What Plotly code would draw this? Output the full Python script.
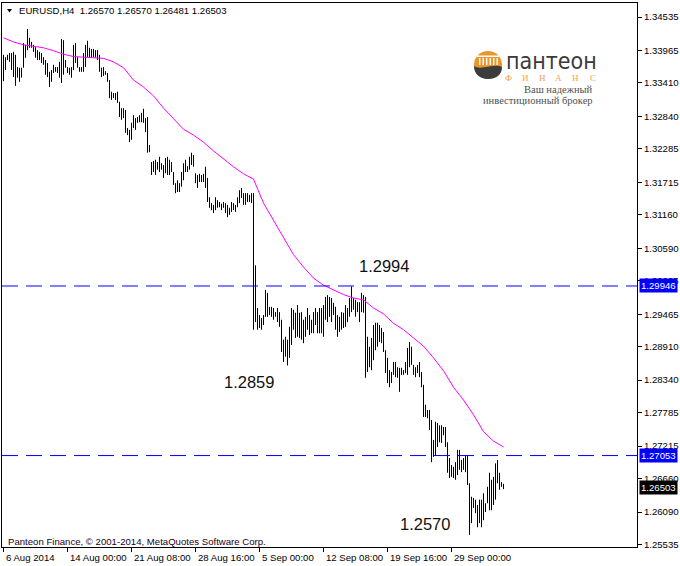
import plotly.graph_objects as go

# ---------------- data ----------------
symbol = "EURUSD,H4"
last_ohlc = ["1.26570", "1.26570", "1.26481", "1.26503"]

highs = [
    1.3389, 1.3385, 1.3389, 1.3392, 1.3392, 1.3394, 1.3389, 1.3368, 1.3367, 1.3367,
    1.3409, 1.3406, 1.3433, 1.3418, 1.3411, 1.3406, 1.3402, 1.3397, 1.3394, 1.3392,
    1.3385, 1.3380, 1.3375, 1.3360, 1.3363, 1.3372, 1.3368, 1.3368, 1.3377, 1.3416,
    1.3414, 1.3380, 1.3368, 1.3367, 1.3368, 1.3406, 1.3409, 1.3385, 1.3368, 1.3368,
    1.3392, 1.3406, 1.3413, 1.3401, 1.3399, 1.3399, 1.3397, 1.3397, 1.3389, 1.3367,
    1.3368, 1.3361, 1.3358, 1.3346, 1.3326, 1.3324, 1.3324, 1.3326, 1.3309, 1.3298,
    1.3298, 1.3295, 1.3264, 1.3261, 1.3273, 1.3286, 1.3281, 1.3283, 1.3286, 1.3290,
    1.3297, 1.3281, 1.3283, 1.3235, 1.3206, 1.3208, 1.3210, 1.3206, 1.3215, 1.3204,
    1.3201, 1.3213, 1.3215, 1.3210, 1.3206, 1.3189, 1.3170, 1.3175, 1.3170, 1.3189,
    1.3204, 1.3210, 1.3199, 1.3215, 1.3222, 1.3218, 1.3187, 1.3184, 1.3186, 1.3184,
    1.3186, 1.3198, 1.3179, 1.3146, 1.3136, 1.3133, 1.3146, 1.3141, 1.3138, 1.3135,
    1.3138, 1.3136, 1.3133, 1.3128, 1.3138, 1.3136, 1.3133, 1.3146, 1.3158, 1.3162,
    1.3153, 1.3153, 1.3153, 1.3150, 1.3153, 1.3153, 1.3030, 1.2957, 1.2945, 1.2940,
    1.2945, 1.2988, 1.2983, 1.2959, 1.2959, 1.2957, 1.2950, 1.2957, 1.2950, 1.2937,
    1.2903, 1.2908, 1.2903, 1.2925, 1.2957, 1.2954, 1.2949, 1.2962, 1.2949, 1.2950,
    1.2937, 1.2942, 1.2957, 1.2945, 1.2937, 1.2950, 1.2957, 1.2950, 1.2957, 1.2957,
    1.2962, 1.2976, 1.2979, 1.2976, 1.2974, 1.2966, 1.2959, 1.2945, 1.2942, 1.2950,
    1.2949, 1.2962, 1.2957, 1.2974, 1.2994, 1.2974, 1.2971, 1.2967, 1.2967, 1.2983,
    1.2979, 1.2976, 1.2908, 1.2891, 1.2906, 1.2928, 1.2932, 1.2932, 1.2928, 1.2923,
    1.2916, 1.2885, 1.2872, 1.2851, 1.2848, 1.2865, 1.2865, 1.2856, 1.2855, 1.2855,
    1.2851, 1.2865, 1.2889, 1.2899, 1.2891, 1.2860, 1.2856, 1.2860, 1.2865, 1.2848,
    1.2826, 1.2792, 1.2783, 1.2783, 1.2766, 1.2732, 1.2763, 1.2761, 1.2757, 1.2757,
    1.2754, 1.2754, 1.2728, 1.2701, 1.2689, 1.2686, 1.2694, 1.2715, 1.2715, 1.2698,
    1.2701, 1.2705, 1.2705, 1.2658, 1.2635, 1.2633, 1.2630, 1.2621, 1.2630, 1.2630,
    1.2641, 1.2624, 1.2652, 1.2676, 1.2664, 1.2669, 1.2692, 1.2698, 1.2676, 1.2660,
    1.2657,
]

lows = [
    1.3344, 1.3363, 1.3380, 1.3377, 1.3363, 1.3351, 1.3336, 1.3350, 1.3343, 1.3350,
    1.3367, 1.3384, 1.3397, 1.3401, 1.3401, 1.3394, 1.3384, 1.3380, 1.3380, 1.3375,
    1.3372, 1.3355, 1.3351, 1.3334, 1.3343, 1.3358, 1.3360, 1.3358, 1.3350, 1.3341,
    1.3355, 1.3367, 1.3358, 1.3355, 1.3350, 1.3363, 1.3375, 1.3367, 1.3360, 1.3360,
    1.3360, 1.3368, 1.3385, 1.3385, 1.3385, 1.3385, 1.3384, 1.3380, 1.3360, 1.3351,
    1.3353, 1.3355, 1.3343, 1.3315, 1.3312, 1.3315, 1.3312, 1.3307, 1.3283, 1.3278,
    1.3281, 1.3256, 1.3252, 1.3240, 1.3244, 1.3264, 1.3261, 1.3273, 1.3274, 1.3274,
    1.3273, 1.3257, 1.3222, 1.3223, 1.3184, 1.3189, 1.3184, 1.3193, 1.3189, 1.3193,
    1.3179, 1.3187, 1.3184, 1.3184, 1.3189, 1.3167, 1.3153, 1.3155, 1.3155, 1.3164,
    1.3175, 1.3189, 1.3189, 1.3193, 1.3201, 1.3198, 1.3170, 1.3162, 1.3172, 1.3172,
    1.3172, 1.3162, 1.3138, 1.3128, 1.3124, 1.3119, 1.3124, 1.3128, 1.3129, 1.3124,
    1.3128, 1.3119, 1.3112, 1.3116, 1.3121, 1.3124, 1.3121, 1.3129, 1.3136, 1.3145,
    1.3133, 1.3133, 1.3138, 1.3138, 1.3136, 1.2920, 1.2933, 1.2920, 1.2923, 1.2920,
    1.2928, 1.2942, 1.2942, 1.2945, 1.2942, 1.2937, 1.2942, 1.2933, 1.2925, 1.2882,
    1.2865, 1.2874, 1.2859, 1.2872, 1.2894, 1.2920, 1.2906, 1.2908, 1.2906, 1.2903,
    1.2897, 1.2908, 1.2920, 1.2911, 1.2914, 1.2914, 1.2928, 1.2914, 1.2914, 1.2914,
    1.2908, 1.2937, 1.2933, 1.2942, 1.2933, 1.2945, 1.2920, 1.2908, 1.2916, 1.2920,
    1.2923, 1.2925, 1.2933, 1.2942, 1.2950, 1.2954, 1.2942, 1.2950, 1.2933, 1.2950,
    1.2949, 1.2838, 1.2848, 1.2856, 1.2851, 1.2868, 1.2885, 1.2891, 1.2899, 1.2897,
    1.2882, 1.2846, 1.2829, 1.2822, 1.2829, 1.2843, 1.2839, 1.2838, 1.2814, 1.2843,
    1.2843, 1.2846, 1.2843, 1.2856, 1.2860, 1.2843, 1.2839, 1.2846, 1.2839, 1.2822,
    1.2771, 1.2771, 1.2769, 1.2749, 1.2694, 1.2703, 1.2706, 1.2720, 1.2728, 1.2727,
    1.2740, 1.2720, 1.2676, 1.2667, 1.2669, 1.2667, 1.2664, 1.2672, 1.2681, 1.2677,
    1.2681, 1.2677, 1.2655, 1.2570, 1.2590, 1.2616, 1.2607, 1.2583, 1.2590, 1.2583,
    1.2595, 1.2609, 1.2624, 1.2612, 1.2612, 1.2621, 1.2630, 1.2658, 1.2647, 1.2652,
    1.2648,
]

ma_bars = list(range(0, 251, 5))
ma_values = [
    1.3418, 1.3411, 1.3406, 1.3404, 1.3401, 1.3396, 1.3390, 1.3386, 1.3385, 1.3385,
    1.3383, 1.3377, 1.3367, 1.3346, 1.3334, 1.3319, 1.3298, 1.3280, 1.3262, 1.3252,
    1.3240, 1.3225, 1.3211, 1.3198, 1.3186, 1.3177, 1.3136, 1.3106, 1.3077, 1.3048,
    1.3027, 1.3008, 1.2996, 1.2988, 1.2980, 1.2974, 1.2971, 1.2957, 1.2947, 1.2931,
    1.2920, 1.2906, 1.2892, 1.2872, 1.2850, 1.2822, 1.2800, 1.2775, 1.2746, 1.2730,
    1.2720,
]

x_tick_bars = [0, 32, 64, 96, 128, 160, 192, 224]
x_tick_labels = ["6 Aug 2014", "14 Aug 00:00", "21 Aug 08:00", "28 Aug 16:00",
                 "5 Sep 00:00", "12 Sep 08:00", "19 Sep 16:00", "29 Sep 00:00"]

y_ticks = [1.34535, 1.33965, 1.33410, 1.32840, 1.32285, 1.31715, 1.31160, 1.30590,
           1.30035, 1.29465, 1.28910, 1.28340, 1.27785, 1.27215, 1.26660, 1.26090, 1.25535]

h_levels = [1.29946, 1.27053]
last_close = 1.26503

key_labels = ["1.2994", "1.2859", "1.2570"]
key_bars = [174, 142, 233]
key_is_high = [True, False, False]

# ---------------- helpers (pixel -> paper for decoration) ----------------
L, R, T, B = 2, 637, 3, 547
def PX(x):
    return (x - L) / (R - L)
def PY(y):
    return (B - y) / (B - T)

FONT = "Liberation Sans, Arial, sans-serif"
SERIF = "Liberation Serif, Times New Roman, serif"

fig = go.Figure()

# OHLC bars drawn as high-low verticals
bx, by = [], []
for i, (h, l) in enumerate(zip(highs, lows)):
    bx += [i, i, None]
    by += [l, h, None]
fig.add_trace(go.Scatter(x=bx, y=by, mode="lines",
                         line=dict(color="#000000", width=1),
                         hoverinfo="skip", showlegend=False))

# moving average
fig.add_trace(go.Scatter(x=ma_bars, y=ma_values, mode="lines",
                         line=dict(color="#FF00FF", width=1),
                         hoverinfo="skip", showlegend=False))

shapes = []
for lv in h_levels:
    shapes.append(dict(type="line", xref="paper", x0=0, x1=1, yref="y", y0=lv, y1=lv,
                       line=dict(color="#0000FF", width=1, dash="16px,8px")))

# little triangle before the symbol
shapes.append(dict(type="path", xref="paper", yref="paper",
                   path=f"M {PX(7)},{PY(9)} L {PX(12)},{PY(9)} L {PX(9.5)},{PY(12.5)} Z",
                   fillcolor="#000000", line=dict(width=0)))

# logo icon
shapes.append(dict(type="circle", xref="paper", yref="paper",
                   x0=PX(474), x1=PX(502), y0=PY(79), y1=PY(51),
                   fillcolor="#E8962E", line=dict(width=0)))
shapes.append(dict(type="path", xref="paper", yref="paper",
                   path=(f"M {PX(474)},{PY(66)} C {PX(481)},{PY(71)} {PX(493)},{PY(63)} {PX(502)},{PY(67)} "
                         f"C {PX(502)},{PY(75)} {PX(496)},{PY(79)} {PX(488)},{PY(79)} "
                         f"C {PX(480)},{PY(79)} {PX(474)},{PY(74)} {PX(474)},{PY(66)} Z"),
                   fillcolor="#3C3C3C", line=dict(width=0)))
shapes.append(dict(type="rect", xref="paper", yref="paper",
                   x0=PX(477), x1=PX(499), y0=PY(57), y1=PY(55.5),
                   fillcolor="#FFFFFF", line=dict(width=0)))
for cx in [479, 482.5, 486, 489.5, 493, 496.5]:
    shapes.append(dict(type="rect", xref="paper", yref="paper",
                       x0=PX(cx), x1=PX(cx + 1.4), y0=PY(65), y1=PY(58),
                       fillcolor="#FFFFFF", line=dict(width=0)))

ann = []
# header
ann.append(dict(xref="paper", yref="paper", x=PX(17), y=PY(10.5), xanchor="left", yanchor="middle",
                text=symbol + "  " + " ".join(last_ohlc), showarrow=False,
                font=dict(family=FONT, size=9.6, color="#000000")))
# copyright
ann.append(dict(xref="paper", yref="paper", x=PX(6), y=PY(541), xanchor="left", yanchor="middle",
                text="Panteon Finance, © 2001-2014, MetaQuotes Software Corp.", showarrow=False,
                font=dict(family=FONT, size=9.6, color="#1a001a")))
# x tick labels (left aligned at the tick)
for b, lab in zip(x_tick_bars, x_tick_labels):
    ann.append(dict(xref="x", yref="paper", x=b, y=PY(557), xanchor="left", yanchor="middle",
                    xshift=0, text=lab, showarrow=False,
                    font=dict(family=FONT, size=9.6, color="#000000")))
# price boxes on the right
for lv in h_levels:
    ann.append(dict(xref="paper", yref="y", x=PX(639), y=lv, xanchor="left", yanchor="middle",
                    text=f"{lv:.5f}", showarrow=False, bgcolor="#0000FF", borderpad=1,
                    font=dict(family=FONT, size=9.6, color="#FFFFFF")))
ann.append(dict(xref="paper", yref="y", x=PX(639), y=last_close, xanchor="left", yanchor="middle",
                text=f"{last_close:.5f}", showarrow=False, bgcolor="#000000", borderpad=1,
                font=dict(family=FONT, size=9.6, color="#FFFFFF")))
# key level labels
key_pos = [(5, 20, "left"), (-12, -17, "right"), (-18, 11, "right")]
for lab, b, hi, (xs, ys, xa) in zip(key_labels, key_bars, key_is_high, key_pos):
    yv = highs[b] if hi else lows[b]
    ann.append(dict(xref="x", yref="y", x=b, y=yv, xanchor=xa, yanchor="middle",
                    xshift=xs, yshift=ys, text=lab, showarrow=False,
                    font=dict(family=FONT, size=16.5, color="#111111")))
# logo text
ann.append(dict(xref="paper", yref="paper", x=PX(504), y=PY(61), xanchor="left", yanchor="middle",
                text="пантеон", showarrow=False,
                font=dict(family="Liberation Sans Narrow, DejaVu Sans Condensed, sans-serif",
                          size=23, color="#3A3A3A")))
for k, ch in enumerate("ФИНАНС"):
    ann.append(dict(xref="paper", yref="paper", x=PX(508.5 + 16.8 * k), y=PY(77.5),
                    xanchor="center", yanchor="middle", text=ch, showarrow=False,
                    font=dict(family=SERIF, size=9, color="#F0A050")))
ann.append(dict(xref="paper", yref="paper", x=PX(595), y=PY(89.5), xanchor="right", yanchor="middle",
                text="Ваш надежный", showarrow=False,
                font=dict(family=SERIF, size=10.5, color="#505050")))
ann.append(dict(xref="paper", yref="paper", x=PX(595), y=PY(100), xanchor="right", yanchor="middle",
                text="инвестиционный брокер", showarrow=False,
                font=dict(family=SERIF, size=10.5, color="#505050")))

fig.update_layout(
    width=680, height=566,
    margin=dict(l=L, r=680 - R, t=T, b=566 - B, pad=0, autoexpand=False),
    paper_bgcolor="#FFFFFF", plot_bgcolor="#FFFFFF",
    showlegend=False,
    shapes=shapes, annotations=ann,
    xaxis=dict(range=[-0.75, 316.75], showgrid=False, zeroline=False, automargin=False,
               showline=True, mirror=True, linecolor="#000000", linewidth=1,
               ticks="outside", tickvals=x_tick_bars, ticklen=4, tickcolor="#000000",
               showticklabels=False, fixedrange=True),
    yaxis=dict(side="right", range=[1.25493, 1.34774], showgrid=False, zeroline=False,
               automargin=False,
               showline=True, mirror=True, linecolor="#000000", linewidth=1,
               ticks="outside", ticklen=4, tickcolor="#000000",
               tickvals=y_ticks, ticktext=[f"{v:.5f}" for v in y_ticks],
               tickfont=dict(family=FONT, size=9.6, color="#000000"), fixedrange=True),
)

fig.write_html("out.html", config={"displayModeBar": False, "staticPlot": True},
               post_script="document.body.style.margin='0';document.body.style.overflow='hidden';")
